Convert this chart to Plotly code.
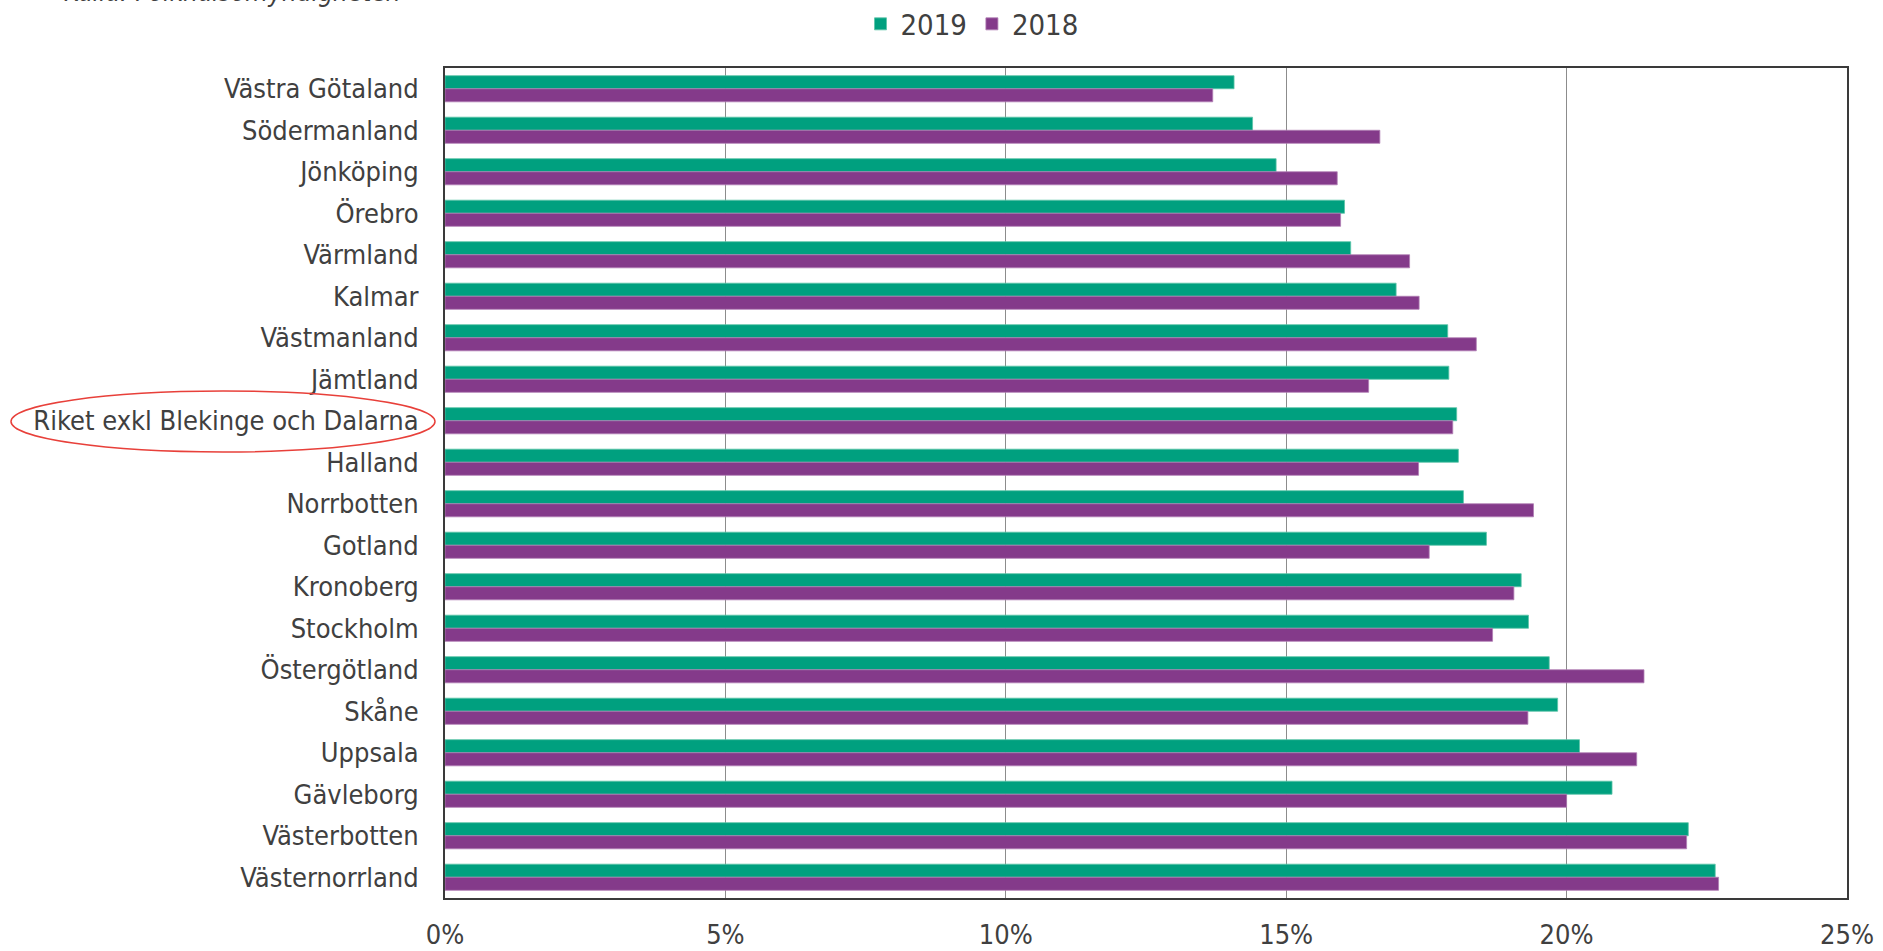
import plotly.graph_objects as go

regions = ["Västra Götaland", "Södermanland", "Jönköping", "Örebro", "Värmland", "Kalmar",
           "Västmanland", "Jämtland", "Riket exkl Blekinge och Dalarna", "Halland", "Norrbotten",
           "Gotland", "Kronoberg", "Stockholm", "Östergötland", "Skåne", "Uppsala", "Gävleborg",
           "Västerbotten", "Västernorrland"]
values_2019 = [14.07, 14.40, 14.82, 16.04, 16.15, 16.96, 17.88, 17.90, 18.04, 18.07, 18.16,
               18.57, 19.19, 19.32, 19.69, 19.84, 20.23, 20.81, 22.17, 22.65]
values_2018 = [13.69, 16.67, 15.91, 15.97, 17.20, 17.37, 18.39, 16.47, 17.97, 17.36, 19.41,
               17.55, 19.06, 18.68, 21.38, 19.31, 21.25, 20.00, 22.14, 22.71]
x_ticks = [0, 5, 10, 15, 20, 25]
x_tick_labels = ["0%", "5%", "10%", "15%", "20%", "25%"]

GREEN = "#00A07F"
PURPLE = "#843A8A"
FONT = "DejaVu Sans Condensed, DejaVu Sans, sans-serif"
TXT = "#404040"

fig = go.Figure()
fig.add_trace(go.Bar(y=regions, x=values_2019, name="2019", orientation="h",
                     marker=dict(color=GREEN, line=dict(color="#5CC4A8", width=0.8))))
fig.add_trace(go.Bar(y=regions, x=values_2018, name="2018", orientation="h",
                     marker=dict(color=PURPLE, line=dict(color="#B07DB4", width=0.8))))

W, H = 1883, 951
L, R, T, B = 445, 1847, 68, 898
pw, ph = R - L, B - T

def px(x):
    return (x - L) / pw

def py(y):
    return (B - y) / ph

fig.update_layout(
    width=W, height=H,
    margin=dict(l=L, r=W - R, t=T, b=H - B, pad=0, autoexpand=False),
    paper_bgcolor="white", plot_bgcolor="white",
    barmode="group", bargap=0.37, bargroupgap=0,
    font=dict(family=FONT, size=27, color=TXT),
    legend=dict(orientation="h", x=972 / W, xanchor="center", xref="container",
                y=1 - 24 / H, yanchor="middle", yref="container",
                font=dict(size=29, color=TXT), itemwidth=30, traceorder="normal",
                bgcolor="rgba(0,0,0,0)"),
    showlegend=True,
    xaxis=dict(range=[0, 25], tickvals=x_ticks, ticktext=x_tick_labels, showgrid=True,
               gridcolor="#8C8C8C", gridwidth=1, showline=True, mirror=True,
               linecolor="#3A3A3A", linewidth=2, zeroline=False, ticks="", automargin=False,
               tickfont=dict(size=27, color=TXT), ticklabelstandoff=12, fixedrange=True),
    yaxis=dict(autorange="reversed", showgrid=False, showline=True, mirror=True,
               linecolor="#3A3A3A", linewidth=2, ticks="", automargin=False,
               tickfont=dict(size=27, color=TXT), ticklabelstandoff=19, fixedrange=True),
    shapes=[dict(type="circle", xref="paper", yref="paper",
                 x0=px(11), x1=px(435), y0=py(452), y1=py(391),
                 line=dict(color="#E8403A", width=1.5))],
    annotations=[dict(text="Källa: Folkhälsomyndigheten", xref="paper", yref="paper",
                      x=px(62), y=py(-8), xanchor="left", yanchor="middle", showarrow=False,
                      font=dict(size=26, color=TXT, family=FONT, style="italic"))],
)

fig.write_html("out.html", config={"displayModeBar": False},
               post_script="document.body.style.margin='0';")
